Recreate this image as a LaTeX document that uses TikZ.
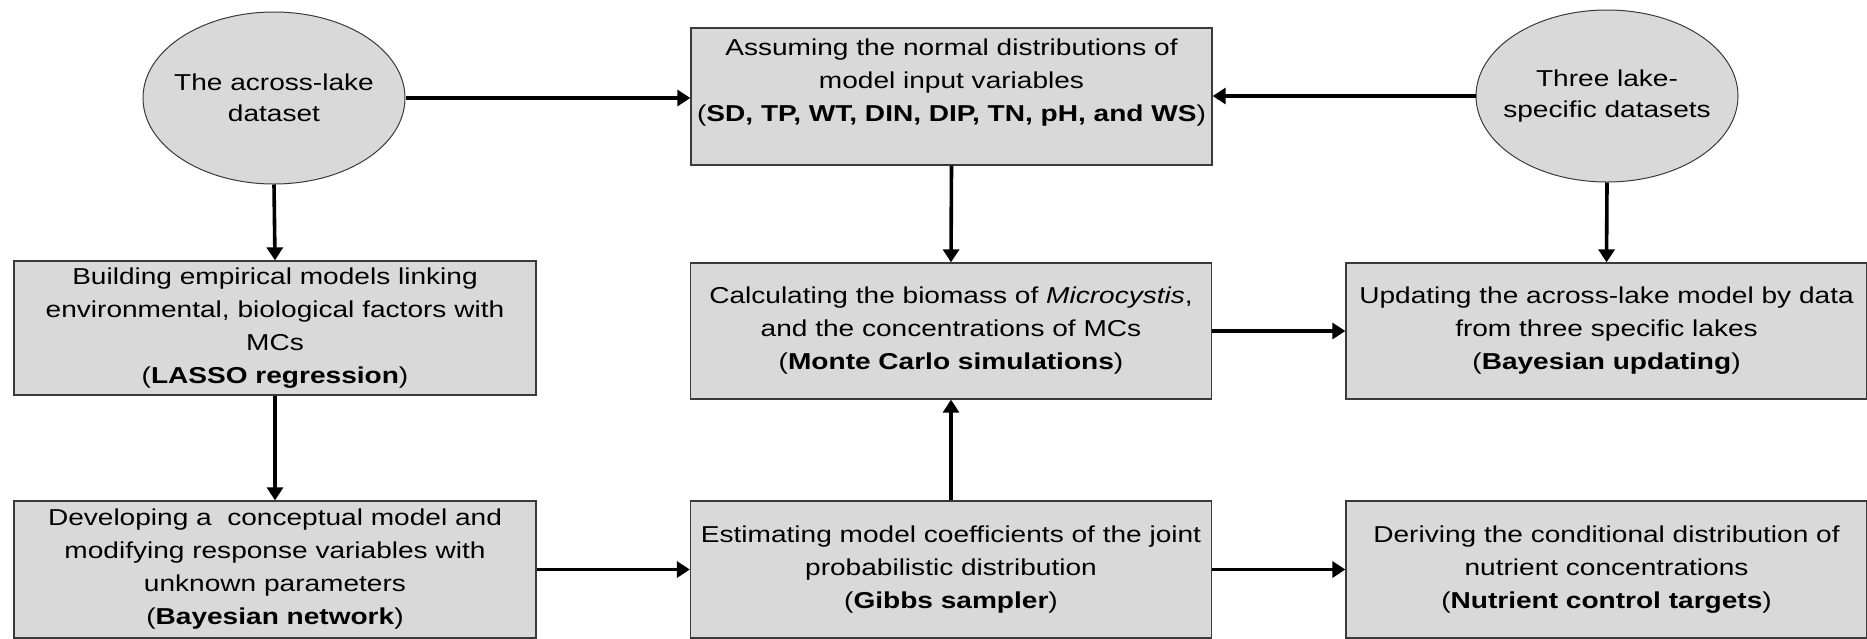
\documentclass[tikz,border=0pt]{standalone}
\usepackage{fontspec}
\setmainfont{Liberation Sans}[FakeStretch=1.22]
\usetikzlibrary{arrows.meta,shapes.geometric}
\definecolor{boxfill}{HTML}{D9D9D9}
\definecolor{boxline}{HTML}{3A3A3A}
\tikzset{
  stepbox/.style={draw=boxline, line width=1.3pt, fill=boxfill, rectangle, align=center,
    inner sep=0pt, font=\fontsize{23}{33}\selectfont},
  datanode/.style={draw=boxline, line width=1pt, fill=boxfill, ellipse,
    inner sep=0pt, minimum width=262pt, minimum height=172pt},
  datatext/.style={align=center, inner sep=0pt, font=\fontsize{23}{31}\selectfont},
  arr/.style={line width=3.6pt, -{Triangle[length=13pt,width=16pt]}, black}
}
\begin{document}
\begin{tikzpicture}[x=1pt,y=-1pt]
\useasboundingbox (0,0) rectangle (1867,638);
\node[datanode] (e1) at (274,98) {};
\node[datatext] (e1t) at (e1.center) {The across-lake\\dataset};
\node[datanode] (e2) at (1607,96) {};
\node[datatext] (e2t) at (e2.center) {Three lake-\\specific datasets};
\node[stepbox, minimum width=521pt, minimum height=137pt] (assume) at (951.5,96.5)
  {Assuming the normal distributions of\\model input variables\\(\textbf{SD, TP, WT, DIN, DIP, TN, pH, and WS})\\~};
\node[stepbox, minimum width=522pt, minimum height=134pt] (build) at (275,328)
  {Building empirical models linking\\environmental, biological factors with\\MCs\\(\textbf{LASSO regression})};
\node[stepbox, minimum width=521pt, minimum height=136pt] (calc) at (951,331)
  {Calculating the biomass of \textit{Microcystis},\\and the concentrations of MCs\\(\textbf{Monte Carlo simulations})};
\node[stepbox, minimum width=521pt, minimum height=136pt] (upd) at (1606.5,331)
  {Updating the across-lake model by data\\from three specific lakes\\(\textbf{Bayesian updating})};
\node[stepbox, minimum width=522pt, minimum height=137pt] (dev) at (275,569.5)
  {Developing a\ \ conceptual model and\\modifying response variables with\\unknown parameters\\(\textbf{Bayesian network})};
\node[stepbox, minimum width=521pt, minimum height=137pt] (est) at (951,569.5)
  {Estimating model coefficients of the joint\\probabilistic distribution\\(\textbf{Gibbs sampler})};
\node[stepbox, minimum width=521pt, minimum height=137pt] (der) at (1606.5,569.5)
  {Deriving the conditional distribution of\\nutrient concentrations\\(\textbf{Nutrient control targets})};
\draw[arr] (e1.east) -- (e1.east -| assume.west);
\draw[arr] (e2.west) -- (e2.west -| assume.east);
\draw[arr] (e1.south) -- (build.north);
\draw[arr] (assume.south) -- (calc.north);
\draw[arr] (e2.south) -- (upd.north);
\draw[arr] (build.south) -- (dev.north);
\draw[arr] (dev.east) -- (est.west);
\draw[arr] (est.north) -- (calc.south);
\draw[arr] (calc.east) -- (upd.west);
\draw[arr] (est.east) -- (der.west);
\end{tikzpicture}
\end{document}
